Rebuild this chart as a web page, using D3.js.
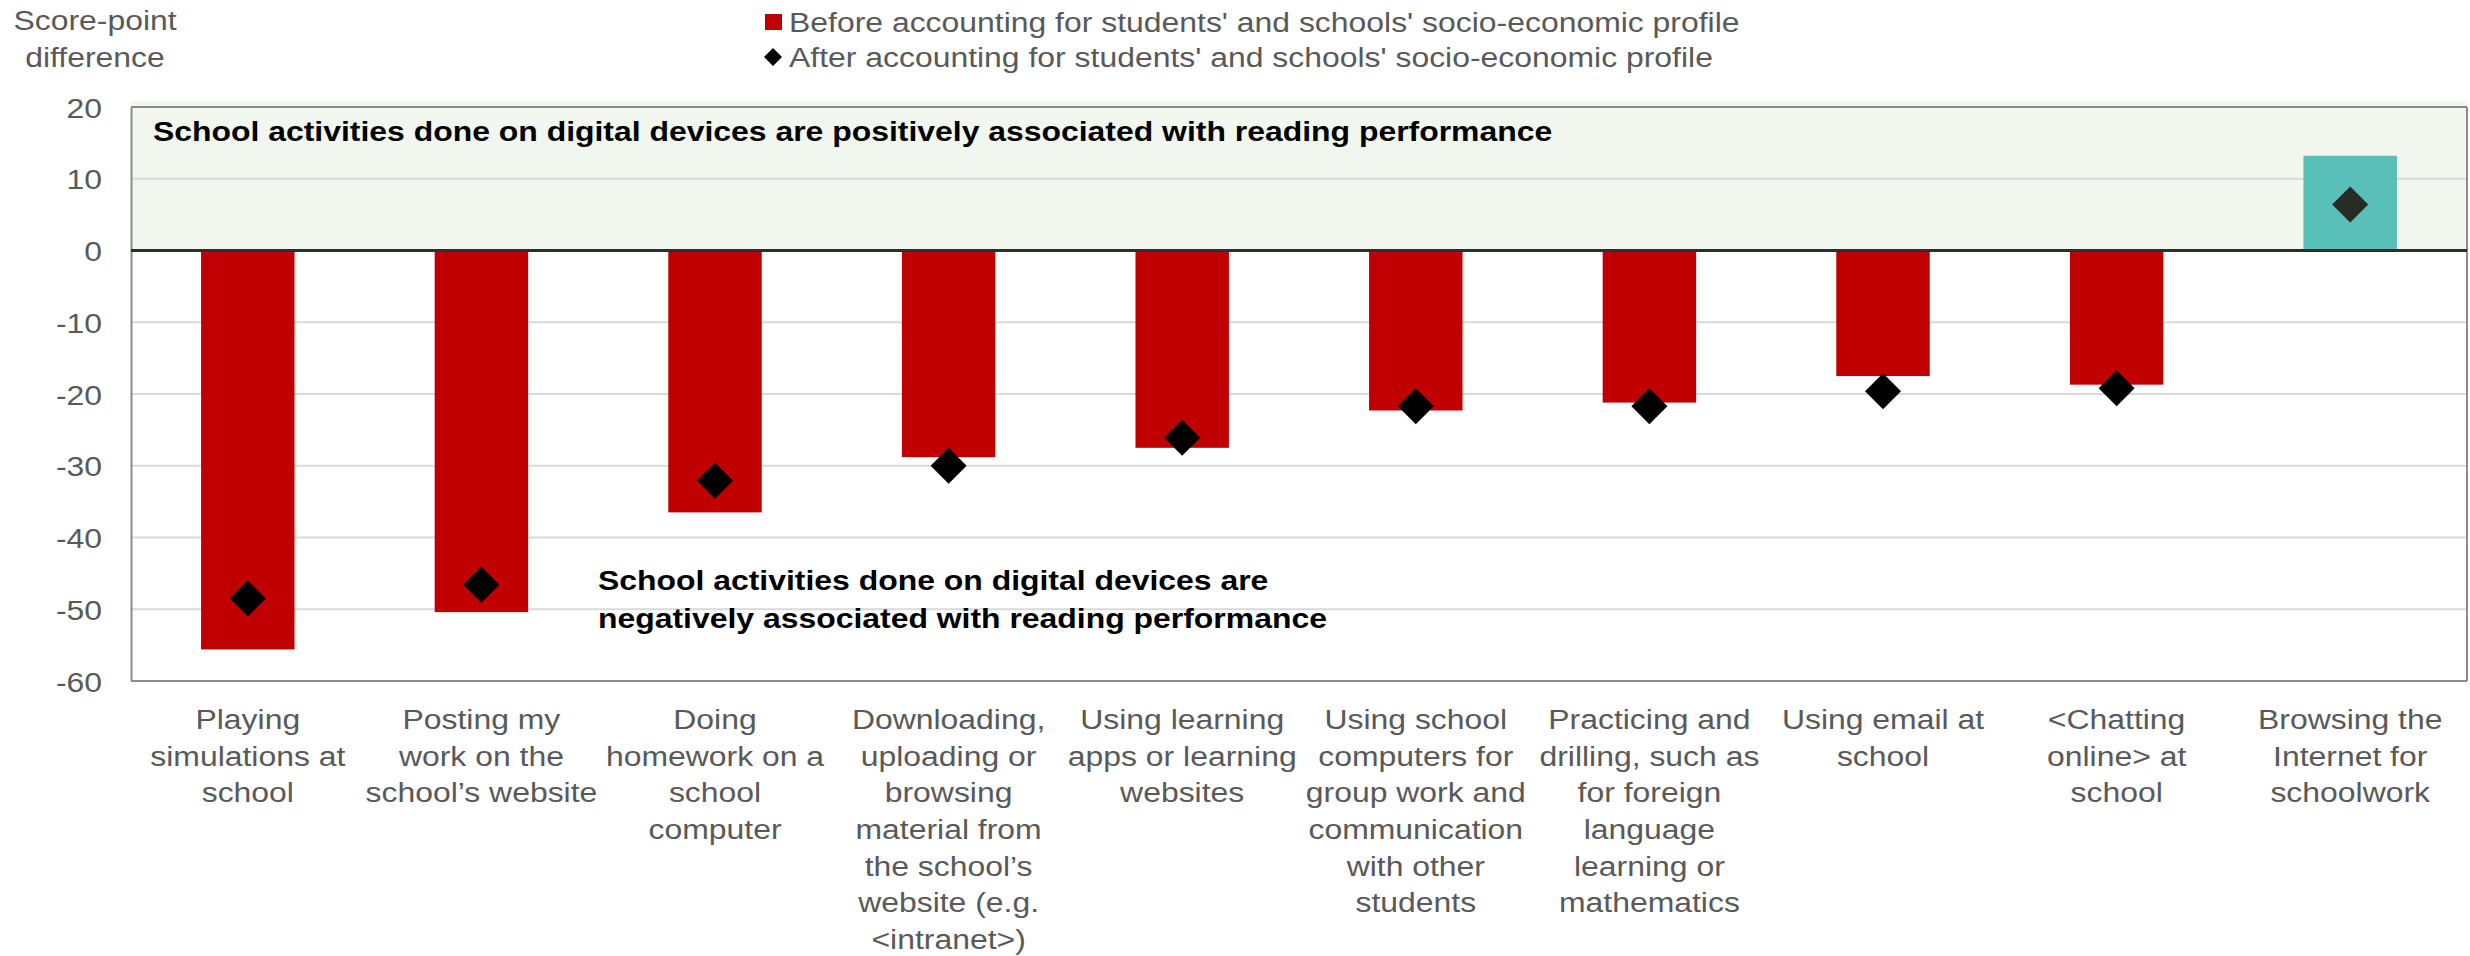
<!DOCTYPE html>
<html>
<head>
<meta charset="utf-8">
<script src="https://cdn.jsdelivr.net/npm/d3@7"></script>
<style>
  body { margin: 0; background: #fff; }
  text { font-family: "Liberation Sans", Arial, sans-serif; }
</style>
</head>
<body>
<script>
// data
var categories = [
  ["Playing", "simulations at", "school"],
  ["Posting my", "work on the", "school\u2019s website"],
  ["Doing", "homework on a", "school", "computer"],
  ["Downloading,", "uploading or", "browsing", "material from", "the school\u2019s", "website (e.g.", "<intranet>)"],
  ["Using learning", "apps or learning", "websites"],
  ["Using school", "computers for", "group work and", "communication", "with other", "students"],
  ["Practicing and", "drilling, such as", "for foreign", "language", "learning or", "mathematics"],
  ["Using email at", "school"],
  ["<Chatting", "online> at", "school"],
  ["Browsing the", "Internet for", "schoolwork"]
];
var before = [-55.6, -50.4, -36.5, -28.8, -27.5, -22.3, -21.2, -17.5, -18.7, 13.2];
var after  = [-48.5, -46.6, -32.1, -30.0, -26.1, -21.7, -21.7, -19.6, -19.2, 6.4];
var yTicks = [20, 10, 0, -10, -20, -30, -40, -50, -60];
var legendLabels = [
  "Before accounting for students' and schools' socio-economic profile",
  "After accounting for students' and schools' socio-economic profile"
];
var yTitle = ["Score-point", "difference"];
var noteTop = ["School activities done on digital devices are positively associated with reading performance"];
var noteBottom = ["School activities done on digital devices are", "negatively associated with reading performance"];

var width = 2470, height = 956;
var margin = {top: 107, right: 3, bottom: 275, left: 131};
var SX = 1.14; // text in the reference is a little wide
var GREY = "#595959";

var svg = d3.select("body").append("svg")
    .attr("width", width).attr("height", height);

var x = d3.scaleBand()
    .domain(d3.range(categories.length))
    .range([margin.left, width - margin.right])
    .padding(0);
var y = d3.scaleLinear()
    .domain([-60, 20])
    .range([height - margin.bottom, margin.top]);

function label(parent, px, py, lines, lh) {
  var t = parent.append("text")
      .attr("transform", "translate(" + px + "," + py + ") scale(" + SX + ",1)");
  lines.forEach(function(l, i) {
    t.append("tspan").attr("x", 0).attr("y", i * lh).text(l);
  });
  return t;
}

// positive zone
svg.append("rect")
    .attr("x", margin.left)
    .attr("y", y(20) - 6)
    .attr("width", width - margin.right - margin.left)
    .attr("height", y(0) - y(20) + 6)
    .attr("fill", "#f1f7ef");

// gridlines
svg.append("g")
    .selectAll("line")
    .data(yTicks.filter(function(d) { return d !== 0 && d !== 20 && d !== -60; }))
    .enter().append("line")
      .attr("x1", margin.left).attr("x2", width - margin.right)
      .attr("y1", function(d) { return y(d); })
      .attr("y2", function(d) { return y(d); })
      .attr("stroke", "#d9d9d9")
      .attr("stroke-width", 2);

// frame
svg.append("line")
    .attr("x1", margin.left).attr("x2", width - margin.right)
    .attr("y1", y(20)).attr("y2", y(20))
    .attr("stroke", "#868c86").attr("stroke-width", 2);
svg.append("line")
    .attr("x1", width - margin.right).attr("x2", width - margin.right)
    .attr("y1", y(20)).attr("y2", y(-60))
    .attr("stroke", "#8c8c8c").attr("stroke-width", 2);
svg.append("line")
    .attr("x1", margin.left).attr("x2", width - margin.right)
    .attr("y1", y(-60)).attr("y2", y(-60))
    .attr("stroke", "#8c8c8c").attr("stroke-width", 2);

// y axis (plain hyphen as minus, like the original)
var yAxis = svg.append("g")
    .attr("transform", "translate(" + margin.left + ",0)")
    .call(d3.axisLeft(y).tickValues(yTicks).tickSize(0).tickPadding(0)
      .tickFormat(function(d) { return String(d); }));
yAxis.select(".domain").attr("stroke", "#8c8c8c").attr("stroke-width", 2);
yAxis.selectAll("text")
    .attr("x", -29 / SX)
    .attr("dy", "0.36em")
    .attr("transform", "scale(" + SX + ",1)")
    .attr("fill", GREY)
    .style("font-size", "28px")
    .style("font-family", "'Liberation Sans', Arial, sans-serif");

// bars
var bw = x.bandwidth() * 0.4;
svg.append("g")
    .selectAll("rect")
    .data(before)
    .enter().append("rect")
      .attr("x", function(d, i) { return x(i) + x.bandwidth() / 2 - bw / 2; })
      .attr("y", function(d) { return y(Math.max(0, d)); })
      .attr("width", bw)
      .attr("height", function(d) { return Math.abs(y(d) - y(0)); })
      .attr("fill", function(d) { return d < 0 ? "#c00000" : "#59bfb9"; });

// zero line
svg.append("line")
    .attr("x1", margin.left).attr("x2", width - margin.right)
    .attr("y1", y(0)).attr("y2", y(0))
    .attr("stroke", "#2b302b").attr("stroke-width", 3);

// diamonds
var diamond = d3.symbol().type(d3.symbolSquare).size(648);
svg.append("g")
    .selectAll("path")
    .data(after)
    .enter().append("path")
      .attr("d", diamond)
      .attr("transform", function(d, i) {
        return "translate(" + (x(i) + x.bandwidth() / 2) + "," + y(d) + ") rotate(45)";
      })
      .attr("fill", function(d) { return d < 0 ? "#000" : "#262b24"; });

// category labels
var cat = svg.append("g")
    .attr("fill", GREY)
    .attr("text-anchor", "middle")
    .style("font-size", "28px");
categories.forEach(function(lines, i) {
  label(cat, x(i) + x.bandwidth() / 2, 729, lines, 36.7);
});

// axis title
label(svg.append("g").attr("fill", GREY).attr("text-anchor", "middle").style("font-size", "28px"),
      95, 30, yTitle, 37);

// legend
var leg = svg.append("g").attr("fill", GREY).style("font-size", "28px");
leg.append("rect").attr("x", 765).attr("y", 14).attr("width", 17).attr("height", 16).attr("fill", "#c00000");
leg.append("path")
    .attr("d", d3.symbol().type(d3.symbolSquare).size(162))
    .attr("transform", "translate(773,57) rotate(45)")
    .attr("fill", "#000");
legendLabels.forEach(function(l, i) {
  label(leg, 789, 32 + i * 34.5, [l], 0);
});

// notes
var notes = svg.append("g").attr("fill", "#000").style("font-size", "28px").style("font-weight", "bold");
label(notes, 153, 141, noteTop, 0);
label(notes, 598, 590, noteBottom, 38);
</script>
</body>
</html>
